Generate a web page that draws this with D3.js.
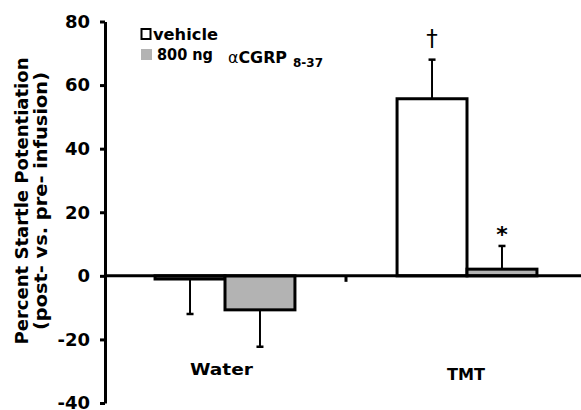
<!DOCTYPE html>
<html>
<head>
<meta charset="utf-8">
<script src="https://cdn.jsdelivr.net/npm/d3@7"></script>
<style>
  body { margin: 0; background: #fff; }
  text { font-family: "DejaVu Sans", Verdana, sans-serif; font-weight: bold; fill: #000; }
</style>
</head>
<body>
<svg width="581" height="410"></svg>
<script>
// data
const categories = ["Water", "TMT"];
const series = ["vehicle", "cgrp"];
const vehicleMean = [-1, 55.7];
const vehicleErr = [11, 12.3];
const cgrpMean = [-10.7, 2.1];
const cgrpErr = [11.6, 7.3];
const yTicks = [-40, -20, 0, 20, 40, 60, 80];
const marks = [{ cat: "TMT", s: "vehicle", sym: "\u2020" }, { cat: "TMT", s: "cgrp", sym: "*" }];

const svg = d3.select("svg");
const fills = { vehicle: "#ffffff", cgrp: "#b3b3b3" };

const y = d3.scaleLinear().domain([-40, 80]).range([403, 21.5]);
const x = d3.scaleBand().domain(categories).range([104, 588]);
const xIn = d3.scaleBand().domain(series).range([0, x.bandwidth()]).paddingOuter(0.73);

// rows for the bars
const rows = [];
categories.forEach((c, i) => {
  rows.push({ cat: c, s: "vehicle", v: vehicleMean[i], e: vehicleErr[i] });
  rows.push({ cat: c, s: "cgrp", v: cgrpMean[i], e: cgrpErr[i] });
});

// error bars (one-sided, away from zero)
const eb = svg.append("g").attr("stroke", "#000").attr("stroke-width", 2);
rows.forEach(d => {
  const cx = x(d.cat) + xIn(d.s) + xIn.bandwidth() / 2;
  const end = d.v >= 0 ? d.v + d.e : d.v - d.e;
  eb.append("line").attr("x1", cx).attr("x2", cx).attr("y1", y(d.v)).attr("y2", y(end));
  eb.append("line").attr("x1", cx - 3.5).attr("x2", cx + 3.5).attr("y1", y(end)).attr("y2", y(end)).attr("stroke-width", 2.5);
});

// bars
svg.append("g")
  .selectAll("rect")
  .data(rows)
  .enter()
  .append("rect")
  .attr("x", d => x(d.cat) + xIn(d.s))
  .attr("width", xIn.bandwidth())
  .attr("y", d => y(Math.max(0, d.v)))
  .attr("height", d => Math.abs(y(d.v) - y(0)))
  .attr("fill", d => fills[d.s])
  .attr("stroke", "#000")
  .attr("stroke-width", 3);

// zero line and category boundary tick
svg.append("line")
  .attr("x1", 105).attr("x2", 581).attr("y1", y(0)).attr("y2", y(0))
  .attr("stroke", "#000").attr("stroke-width", 3);
svg.append("line")
  .attr("x1", x("TMT")).attr("x2", x("TMT")).attr("y1", y(0)).attr("y2", y(0) + 6)
  .attr("stroke", "#000").attr("stroke-width", 3);

// y axis (plain hyphen for negatives, like the original)
const yAxis = svg.append("g")
  .attr("transform", "translate(105,0)")
  .call(d3.axisLeft(y).tickValues(yTicks).tickSize(5).tickPadding(10).tickSizeOuter(0).tickFormat(d => String(d)));
yAxis.select(".domain").attr("stroke-width", 3);
yAxis.selectAll(".tick line").attr("stroke-width", 3);
yAxis.selectAll(".tick text").style("font-size", "18px").style("font-family", "DejaVu Sans").style("font-weight", "bold");

// category labels
const catPos = { Water: { dx: -3.5, y: 375, w: 63 }, TMT: { dx: -1, y: 380, w: 38 } };
svg.selectAll("text.cat")
  .data(categories)
  .enter()
  .append("text")
  .attr("class", "cat")
  .attr("x", d => x(d) + x.bandwidth() / 2 + catPos[d].dx)
  .attr("y", d => catPos[d].y)
  .attr("text-anchor", "middle")
  .attr("textLength", d => catPos[d].w)
  .attr("lengthAdjust", "spacingAndGlyphs")
  .style("font-size", "16px")
  .text(d => d);

// significance marks
svg.selectAll("text.sig")
  .data(marks)
  .enter()
  .append("text")
  .attr("class", "sig")
  .attr("x", d => x(d.cat) + xIn(d.s) + xIn.bandwidth() / 2)
  .attr("y", d => {
    const r = rows.find(q => q.cat === d.cat && q.s === d.s);
    return y(r.v + r.e) - (d.sym === "*" ? 4 : 14);
  })
  .attr("text-anchor", "middle")
  .style("font-size", d => d.sym === "*" ? "22px" : "23px")
  .style("font-weight", d => d.sym === "*" ? "bold" : "normal")
  .text(d => d.sym);

// y title
const title = svg.append("text")
  .attr("transform", "translate(28,201) rotate(-90)")
  .attr("text-anchor", "middle")
  .style("font-size", "17px");
title.append("tspan").attr("x", 0).attr("y", 0)
  .attr("textLength", 287).attr("lengthAdjust", "spacingAndGlyphs")
  .text("Percent Startle Potentiation");
title.append("tspan").attr("x", 0).attr("y", 19)
  .attr("textLength", 258).attr("lengthAdjust", "spacingAndGlyphs")
  .text("(post- vs. pre- infusion)");

// legend
const legend = svg.append("g");
legend.append("rect").attr("x", 141.5).attr("y", 29).attr("width", 9).attr("height", 10)
  .attr("fill", fills.vehicle).attr("stroke", "#000").attr("stroke-width", 2);
legend.append("text").attr("x", 153).attr("y", 39.5).style("font-size", "16px")
  .attr("textLength", 65).attr("lengthAdjust", "spacingAndGlyphs").text("vehicle");
legend.append("rect").attr("x", 141).attr("y", 49).attr("width", 11).attr("height", 11)
  .attr("fill", fills.cgrp);
legend.append("text").attr("x", 157).attr("y", 60).style("font-size", "16px")
  .attr("textLength", 56).attr("lengthAdjust", "spacingAndGlyphs").text("800 ng");
const cg = legend.append("text").attr("x", 228).attr("y", 63).style("font-size", "16px")
  .attr("textLength", 59).attr("lengthAdjust", "spacingAndGlyphs");
cg.append("tspan").style("font-weight", "normal").text("\u03b1");
cg.append("tspan").text("CGRP");
legend.append("text").attr("x", 293).attr("y", 67).style("font-size", "12px")
  .attr("textLength", 30).attr("lengthAdjust", "spacingAndGlyphs").text("8-37");
</script>
</body>
</html>
